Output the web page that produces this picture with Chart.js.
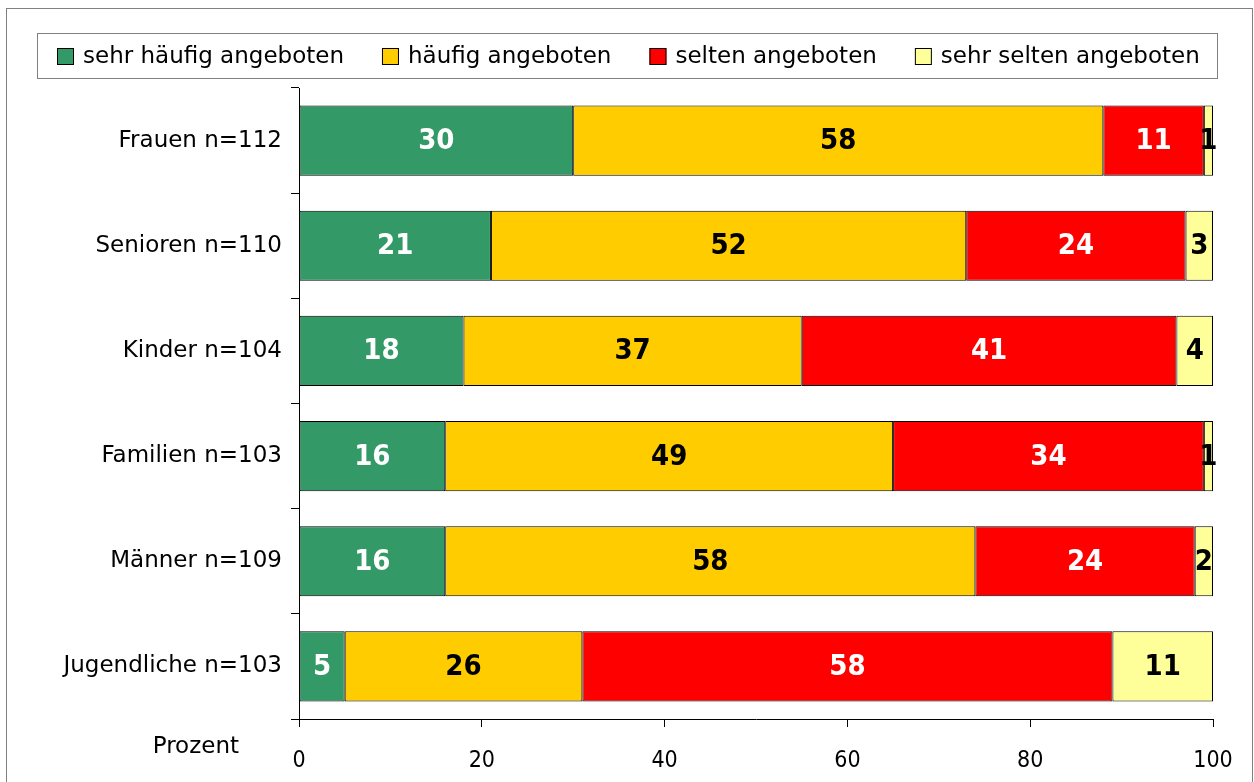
<!DOCTYPE html>
<html lang="de">
<head>
<meta charset="utf-8">
<title>Angebote nach Zielgruppen</title>
<script src="https://cdn.jsdelivr.net/npm/chart.js@4"></script>
<style>
  html, body { margin: 0; padding: 0; background: #fff; }
  #wrap { width: 1254px; height: 782px; position: relative; }
</style>
</head>
<body>
<div id="wrap"><canvas id="barChart" width="1254" height="782"></canvas></div>
<script>
/* ── Data ────────────────────────────────────────────────────────────────── */
const CATEGORIES  = ['Frauen n=112', 'Senioren n=110', 'Kinder n=104', 'Familien n=103', 'Männer n=109', 'Jugendliche n=103'];
const SERIES      = ['sehr häufig angeboten', 'häufig angeboten', 'selten angeboten', 'sehr selten angeboten'];
const sehrHaeufig = [30, 21, 18, 16, 16, 5];
const haeufig     = [58, 52, 37, 49, 58, 26];
const selten      = [11, 24, 41, 34, 24, 58];
const sehrSelten  = [1, 3, 4, 1, 2, 11];
const X_TICKS     = [0, 20, 40, 60, 80, 100];
const AXIS_TITLE  = 'Prozent';

const FONT      = "'DejaVu Sans', sans-serif";
const FONT_BOLD = "'DejaVu Sans Condensed', 'DejaVu Sans', sans-serif";
const COLORS      = ['#339966', '#FFCC00', '#FF0000', '#FFFF99'];
const LABEL_COLOR = ['#ffffff', '#000000', '#ffffff', '#000000'];

/* ── Plugins ─────────────────────────────────────────────────────────────── */
const frame = {
  id: 'frame',
  beforeDraw(chart) {
    const { ctx } = chart;
    ctx.save();
    ctx.strokeStyle = '#808080';
    ctx.lineWidth = 1;
    ctx.strokeRect(6.5, 8.5, chart.width - 8, chart.height + 20);
    ctx.restore();
  },
  afterDraw(chart) {
    const { ctx, chartArea } = chart;
    // axis title at the lower left
    ctx.save();
    ctx.font = `23px ${FONT}`;
    ctx.fillStyle = '#000';
    ctx.textAlign = 'right';
    ctx.textBaseline = 'middle';
    ctx.fillText(AXIS_TITLE, chartArea.left - 60, chartArea.bottom + 28);
    ctx.restore();
  }
};

/** Boxed legend in one row above the plot, like the spreadsheet original */
const boxedLegend = {
  id: 'boxedLegend',
  afterDraw(chart) {
    const { ctx } = chart;
    const box = 17, textGap = 9, itemGap = 38, midY = 56, centerX = 628;
    ctx.save();
    ctx.font = `23px ${FONT}`;
    const items = chart.data.datasets.map(ds => ({
      ds, w: box + textGap + ctx.measureText(ds.label).width
    }));
    const total = items.reduce((s, it) => s + it.w, 0) + itemGap * (items.length - 1);
    let x = Math.round(centerX - total / 2);

    ctx.strokeStyle = '#808080';
    ctx.lineWidth = 1;
    ctx.strokeRect(x - 20 + 0.5, midY - 23 + 0.5, Math.round(total) + 37, 45);

    ctx.textAlign = 'left';
    ctx.textBaseline = 'middle';
    items.forEach(it => {
      ctx.fillStyle = it.ds.backgroundColor;
      ctx.fillRect(x, midY - 8, box, box);
      ctx.strokeStyle = '#000';
      ctx.strokeRect(x + 0.5, midY - 8 + 0.5, box - 1, box - 1);
      ctx.fillStyle = '#000';
      ctx.fillText(it.ds.label, x + box + textGap, midY + 1);
      x += it.w + itemGap;
    });
    ctx.restore();
  }
};

const valueLabels = {
  id: 'valueLabels',
  afterDatasetsDraw(chart) {
    const { ctx } = chart;
    ctx.save();
    ctx.font = `bold 29px ${FONT_BOLD}`;
    ctx.textAlign = 'center';
    ctx.textBaseline = 'middle';
    chart.data.datasets.forEach((ds, di) => {
      const meta = chart.getDatasetMeta(di);
      meta.data.forEach((bar, i) => {
        const v = ds.data[i];
        if (!v) return;
        ctx.fillStyle = LABEL_COLOR[di];
        ctx.fillText(String(v), (bar.x + bar.base) / 2, bar.y + 1);
      });
    });
    ctx.restore();
  }
};

/* ── Chart ───────────────────────────────────────────────────────────────── */
const seriesData = [sehrHaeufig, haeufig, selten, sehrSelten];

const chart = new Chart(document.getElementById('barChart').getContext('2d'), {
  type: 'bar',
  data: {
    labels: CATEGORIES,
    datasets: SERIES.map((name, i) => ({
      label: name,
      data: seriesData[i],
      backgroundColor: COLORS[i],
      borderColor: '#000',
      borderWidth: 1,
      borderSkipped: false,
      barPercentage: 0.667,
      categoryPercentage: 1
    }))
  },
  options: {
    indexAxis: 'y',
    responsive: false,
    animation: false,
    layout: { padding: { top: 88, left: 6, right: 41, bottom: 0 } },
    plugins: {
      tooltip: { enabled: false },
      legend: { display: false }
    },
    scales: {
      x: {
        stacked: true,
        min: 0,
        max: 100,
        afterBuildTicks: scale => { scale.ticks = X_TICKS.map(v => ({ value: v })); },
        afterFit: scale => { scale.height = 63; },
        border: { color: '#000', width: 1 },
        grid: { drawOnChartArea: false, drawTicks: true, tickLength: 8, color: '#000' },
        ticks: { font: { family: FONT_BOLD, size: 23 }, color: '#000', padding: 20, maxRotation: 0 }
      },
      y: {
        stacked: true,
        offset: true,
        afterFit: scale => { scale.width = 293; },
        border: { color: '#000', width: 1 },
        grid: { offset: true, drawOnChartArea: false, drawTicks: true, tickLength: 8, color: '#000' },
        ticks: { font: { family: FONT, size: 23 }, color: '#000', padding: 9 }
      }
    }
  },
  plugins: [frame, boxedLegend, valueLabels]
});
</script>
</body>
</html>
